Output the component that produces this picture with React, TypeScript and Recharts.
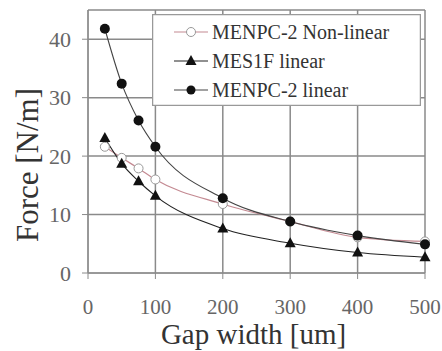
import React from 'react';
import { LineChart, Line, XAxis, YAxis, CartesianGrid } from 'recharts';

const gaps = [25, 50, 75, 100, 200, 300, 400, 500];
const menpcNonLinear = [21.6, 19.7, 17.9, 16.0, 11.8, 8.8, 6.1, 5.4];
const mes1fLinear = [23.1, 18.7, 15.7, 13.2, 7.6, 5.1, 3.5, 2.7];
const menpcLinear = [41.8, 32.4, 26.1, 21.6, 12.8, 8.8, 6.4, 4.9];
const xTicks = [0, 100, 200, 300, 400, 500];
const yTicks = [0, 10, 20, 30, 40];

const data = gaps.map((g, i) => ({
  gap: g,
  nonLinear: menpcNonLinear[i],
  mes1f: mes1fLinear[i],
  linear: menpcLinear[i],
}));

const FONT = 'Liberation Serif';
const PINK = '#c48a92';

const Triangle = (props: any) => {
  const { cx, cy, index } = props;
  if (cx == null || cy == null) return null;
  return <path key={`t${index}`} d={`M${cx},${cy - 6} L${cx + 5.5},${cy + 4} L${cx - 5.5},${cy + 4} Z`} fill="#111" />;
};

const legendItems = [
  { label: 'MENPC-2 Non-linear', kind: 'open', line: PINK },
  { label: 'MES1F linear', kind: 'tri', line: '#222' },
  { label: 'MENPC-2 linear', kind: 'dot', line: '#444' },
];

// legend box drawn over the plot, like the original figure
function LegendBox() {
  return (
    <svg width={269} height={92} style={{ display: 'block' }}>
      <rect x={0.5} y={0.5} width={268} height={91} fill="#fff" stroke="#999" strokeWidth={1.5} />
      {legendItems.map((it, i) => {
        const y = 18 + i * 29;
        return (
          <g key={it.label}>
            <line x1={22} x2={56} y1={y} y2={y} stroke={it.line} strokeWidth={1.2} />
            {it.kind === 'open' && <circle cx={39} cy={y} r={4.5} fill="#fff" stroke="#999" />}
            {it.kind === 'dot' && <circle cx={39} cy={y} r={4.5} fill="#111" />}
            {it.kind === 'tri' && <path d={`M39,${y - 6} L44.5,${y + 4} L33.5,${y + 4} Z`} fill="#111" />}
            <text x={60} y={y + 7} fontFamily={FONT} fontSize={20} fill="#333">
              {it.label}
            </text>
          </g>
        );
      })}
    </svg>
  );
}

export default function App() {
  return (
    <div style={{ position: 'absolute', left: 0, top: 0, width: 442, height: 351, background: '#fff' }}>
      <LineChart width={442} height={351} data={data} margin={{ top: 10, right: 17, left: 0, bottom: 0 }}>
        <CartesianGrid stroke="#8a8a8a" strokeWidth={1.5} />
        <XAxis
          dataKey="gap"
          type="number"
          domain={[0, 500]}
          ticks={xTicks}
          height={78}
          stroke="#8a8a8a"
          tickSize={6}
          tickMargin={20}
          tick={{ fill: '#666', fontFamily: FONT, fontSize: 21 }}
          label={{
            content: ({ viewBox }: any) => (
              <text x={viewBox.x + viewBox.width / 2 - 3} y={344} textAnchor="middle" fontFamily={FONT} fontSize={29} fill="#333">
                Gap width [um]
              </text>
            ),
          }}
        />
        <YAxis
          type="number"
          domain={[0, 45]}
          ticks={yTicks}
          width={88}
          stroke="#8a8a8a"
          tickSize={6}
          tickMargin={11}
          tick={{ fill: '#666', fontFamily: FONT, fontSize: 22 }}
          label={{
            content: () => {
              const cx = 27;
              const cy = 165;
              return (
                <text x={cx} y={cy} transform={`rotate(-90 ${cx} ${cy})`} textAnchor="middle" dominantBaseline="central" fontFamily={FONT} fontSize={31} fill="#333">
                  Force [N/m]
                </text>
              );
            },
          }}
        />
        <Line type="monotone" dataKey="nonLinear" stroke={PINK} strokeWidth={1.2} isAnimationActive={false}
          dot={{ r: 4.5, fill: '#fff', stroke: '#999', strokeWidth: 1 }} />
        <Line type="monotone" dataKey="mes1f" stroke="#222" strokeWidth={1.1} isAnimationActive={false} dot={<Triangle />} />
        <Line type="monotone" dataKey="linear" stroke="#444" strokeWidth={1.1} isAnimationActive={false}
          dot={{ r: 5, fill: '#111', stroke: '#111', strokeWidth: 0 }} />
      </LineChart>
      <div style={{ position: 'absolute', left: 152, top: 14 }}>
        <LegendBox />
      </div>
    </div>
  );
}
